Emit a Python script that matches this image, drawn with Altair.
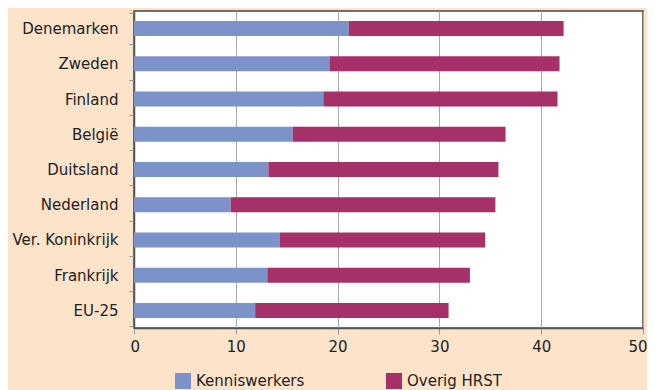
import altair as alt
import pandas as pd

landen = ["Denemarken", "Zweden", "Finland", "België", "Duitsland",
          "Nederland", "Ver. Koninkrijk", "Frankrijk", "EU-25"]
kenniswerkers = [21.1, 19.2, 18.6, 15.6, 13.2, 9.5, 14.3, 13.1, 11.9]
overig_hrst = [21.1, 22.6, 23.0, 20.9, 22.6, 26.0, 20.2, 19.9, 19.0]
reeksen = ["Kenniswerkers", "Overig HRST"]
kleuren = ["#7b93c9", "#a63068"]

rows = []
for land, k, o in zip(landen, kenniswerkers, overig_hrst):
    rows.append({"land": land, "reeks": reeksen[0], "waarde": k, "volg": 0})
    rows.append({"land": land, "reeks": reeksen[1], "waarde": o, "volg": 1})
df = pd.DataFrame(rows)

FONT = "DejaVu Sans"

chart = alt.Chart(df).mark_bar(size=15).encode(
    y=alt.Y("land:N", sort=landen, title=None,
            axis=alt.Axis(labelFontSize=15, labelColor="#222", labelFont=FONT,
                          labelFontWeight="normal",
                          labelPadding=11, tickBand="extent", tickSize=5,
                          tickColor="#999", domainColor="#555", domainWidth=1.5,
                          grid=False)),
    x=alt.X("waarde:Q", stack="zero", title=None,
            scale=alt.Scale(domain=[0, 50], nice=False),
            axis=alt.Axis(values=[0, 10, 20, 30, 40, 50], labelFontSize=15,
                          labelColor="#222", labelFont=FONT,
                          labelFontWeight="normal", labelFlush=True,
                          labelFlushOffset=4,
                          labelOverlap=False, tickSize=6,
                          tickColor="#999", domainColor="#555", domainWidth=1.5,
                          gridColor="#a8a8a8", gridWidth=1, labelPadding=5)),
    color=alt.Color("reeks:N", scale=alt.Scale(domain=reeksen, range=kleuren),
                    title=None,
                    legend=alt.Legend(orient="none", legendX=41, legendY=362,
                                      direction="horizontal", columns=2,
                                      columnPadding=81, symbolType="square",
                                      symbolSize=256, symbolStrokeWidth=0,
                                      labelFontSize=15, labelFont=FONT,
                                      labelFontWeight="normal",
                                      labelColor="#222", labelOffset=5)),
    order=alt.Order("volg:Q"),
).properties(
    width=509, height=317,
    autosize=alt.AutoSizeParams(type="none"),
    padding={"left": 126, "top": 3, "right": 4, "bottom": 62},
    background="#fde3ca",
).configure_view(
    fill="white", stroke="#444", strokeWidth=1.5
)

chart.save("out.html", embed_options={"renderer": "svg", "actions": False})
